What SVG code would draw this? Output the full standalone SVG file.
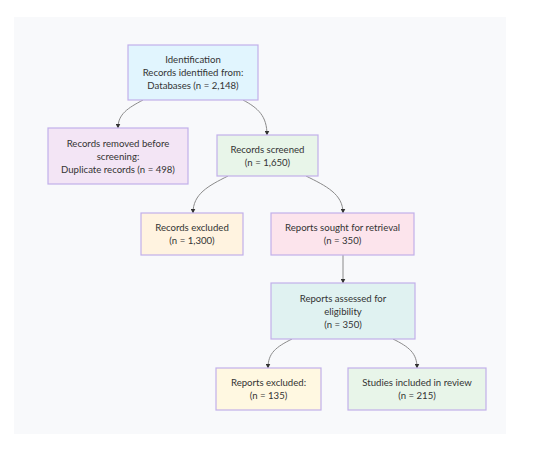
<svg xmlns="http://www.w3.org/2000/svg" width="541" height="454" viewBox="0 0 541 454">
<defs>
<marker id="arr" viewBox="0 0 10 10" refX="9" refY="5" markerWidth="5" markerHeight="5" orient="auto" markerUnits="userSpaceOnUse">
<path d="M0,0 L10,5 L0,10 z" fill="#333"/>
</marker>
<style>
.n{stroke:#c2b0ea;stroke-width:1.2}
.t{font-family:Lato,"Open Sans","DejaVu Sans",sans-serif;font-size:9.6px;fill:#333;text-anchor:middle}
.e{fill:none;stroke:#8a8a8a;stroke-width:1;marker-end:url(#arr)}
</style>
</defs>
<rect x="0" y="0" width="541" height="454" fill="#ffffff"/>
<rect x="14" y="17" width="492" height="417" fill="#f8f9fb"/>
<g id="connectors">
<path class="e" d="M143,100 C128,108 118,114 118,128"/>
<path class="e" d="M243,100 C258,108 267,116 267,135"/>
<path class="e" d="M228,176 C208,186 193,194 193,213"/>
<path class="e" d="M306,176 C326,186 343,194 343,213"/>
<path class="e" d="M343,255 L343,283"/>
<path class="e" d="M292,339 C276,347 268,353 268,368"/>
<path class="e" d="M393,339 C409,347 417,353 417,368"/>
</g>
<g id="identification">
<rect class="n" x="128" y="45" width="130" height="55" fill="#e1f5fe"/>
<text class="t" x="193" y="63">Identification</text>
<text class="t" x="193" y="76">Records identified from:</text>
<text class="t" x="193" y="89">Databases (n = 2,148)</text>
</g>
<g id="removed">
<rect class="n" x="48" y="128" width="140" height="56" fill="#f3e5f5"/>
<text class="t" x="118" y="147">Records removed before</text>
<text class="t" x="118" y="160">screening:</text>
<text class="t" x="118" y="173">Duplicate records (n = 498)</text>
</g>
<g id="screened">
<rect class="n" x="217" y="135" width="101" height="41" fill="#e8f5e9"/>
<text class="t" x="267.5" y="153">Records screened</text>
<text class="t" x="267.5" y="166">(n = 1,650)</text>
</g>
<g id="excluded">
<rect class="n" x="141" y="213" width="102" height="42" fill="#fff3e0"/>
<text class="t" x="192" y="231">Records excluded</text>
<text class="t" x="192" y="244">(n = 1,300)</text>
</g>
<g id="sought">
<rect class="n" x="271" y="213" width="143" height="42" fill="#fce4ec"/>
<text class="t" x="342.5" y="231">Reports sought for retrieval</text>
<text class="t" x="342.5" y="244">(n = 350)</text>
</g>
<g id="assessed">
<rect class="n" x="271" y="283" width="144" height="56" fill="#e0f2f1"/>
<text class="t" x="343" y="302">Reports assessed for</text>
<text class="t" x="343" y="315">eligibility</text>
<text class="t" x="343" y="328">(n = 350)</text>
</g>
<g id="reports-excluded">
<rect class="n" x="216" y="368" width="105" height="42" fill="#fff8e1"/>
<text class="t" x="268.5" y="386">Reports excluded:</text>
<text class="t" x="268.5" y="399">(n = 135)</text>
</g>
<g id="included">
<rect class="n" x="348" y="368" width="138" height="42" fill="#e8f5e9"/>
<text class="t" x="417" y="386">Studies included in review</text>
<text class="t" x="417" y="399">(n = 215)</text>
</g>
</svg>
